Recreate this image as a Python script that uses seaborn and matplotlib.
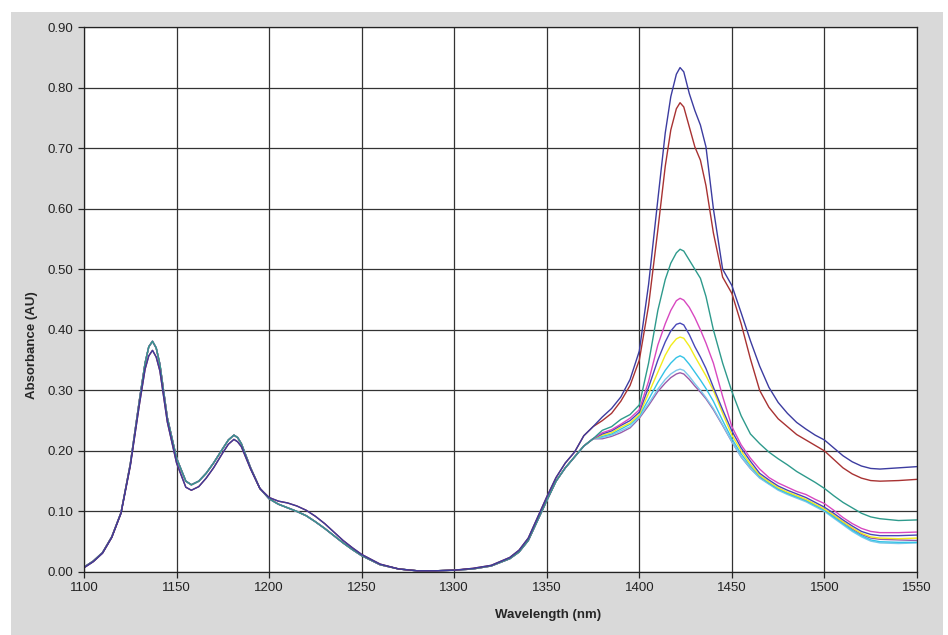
import pandas as pd
import matplotlib.pyplot as plt
import seaborn as sns
from matplotlib.patches import Rectangle

# wavelengths (nm)
wl_low = [1100, 1105, 1110, 1115, 1120, 1125, 1130, 1133, 1135, 1137, 1139, 1141, 1145, 1150,
          1155, 1158, 1162, 1166, 1170, 1175, 1178, 1181, 1183, 1185, 1190, 1195, 1200, 1205,
          1210, 1215, 1220, 1225, 1230, 1235, 1240, 1245, 1250, 1260, 1270, 1280, 1290, 1300,
          1310, 1320, 1330, 1335, 1340, 1345, 1350, 1355, 1360, 1365, 1370, 1375]
wl_high = [1380, 1385, 1390, 1395, 1400, 1405, 1410, 1414, 1417, 1420, 1422, 1424, 1427, 1430,
           1433, 1436, 1440, 1445, 1450, 1455, 1460, 1465, 1470, 1475, 1480, 1485, 1490, 1495,
           1500, 1505, 1510, 1515, 1520, 1525, 1530, 1540, 1550]

# first part of the spectra, nearly identical for all samples
low_light = [0.008, 0.018, 0.032, 0.058, 0.098, 0.178, 0.285, 0.345, 0.372, 0.381, 0.370, 0.343,
             0.255, 0.188, 0.150, 0.144, 0.150, 0.163, 0.180, 0.204, 0.218, 0.226, 0.222, 0.212,
             0.172, 0.138, 0.121, 0.112, 0.106, 0.100, 0.093, 0.083, 0.072, 0.060, 0.048, 0.037,
             0.027, 0.012, 0.005, 0.002, 0.002, 0.003, 0.005, 0.010, 0.022, 0.033, 0.052, 0.085,
             0.118, 0.150, 0.172, 0.190, 0.208, 0.220]
low_dark = [0.007, 0.017, 0.031, 0.057, 0.097, 0.175, 0.278, 0.335, 0.357, 0.366, 0.355, 0.332,
            0.248, 0.180, 0.140, 0.135, 0.141, 0.155, 0.172, 0.197, 0.211, 0.219, 0.215, 0.207,
            0.170, 0.138, 0.123, 0.117, 0.114, 0.109, 0.102, 0.092, 0.080, 0.066, 0.052, 0.040,
            0.029, 0.013, 0.005, 0.002, 0.002, 0.003, 0.006, 0.011, 0.024, 0.036, 0.056, 0.090,
            0.124, 0.156, 0.180, 0.198, 0.225, 0.240]

# water band region, per sample
navy = [0.256, 0.270, 0.289, 0.318, 0.365, 0.475, 0.615, 0.725, 0.785, 0.822, 0.833, 0.826,
        0.790, 0.762, 0.738, 0.702, 0.600, 0.500, 0.473, 0.428, 0.382, 0.340, 0.305, 0.280,
        0.262, 0.247, 0.236, 0.226, 0.218, 0.205, 0.192, 0.182, 0.175, 0.171, 0.170, 0.172,
        0.174]
maroon = [0.250, 0.262, 0.282, 0.308, 0.350, 0.440, 0.565, 0.670, 0.730, 0.765, 0.775, 0.768,
          0.735, 0.702, 0.680, 0.638, 0.560, 0.487, 0.460, 0.410, 0.352, 0.300, 0.272, 0.253,
          0.240, 0.227, 0.218, 0.209, 0.200, 0.186, 0.172, 0.162, 0.155, 0.151, 0.150, 0.151,
          0.153]
teal = [0.234, 0.240, 0.252, 0.260, 0.276, 0.345, 0.432, 0.483, 0.510, 0.527, 0.533, 0.530,
        0.515, 0.500, 0.485, 0.455, 0.400, 0.345, 0.298, 0.258, 0.228, 0.212, 0.198, 0.187,
        0.177, 0.166, 0.157, 0.148, 0.138, 0.126, 0.115, 0.106, 0.097, 0.091, 0.088, 0.085,
        0.086]
magenta = [0.230, 0.235, 0.244, 0.254, 0.268, 0.315, 0.375, 0.410, 0.432, 0.448, 0.452, 0.449,
           0.437, 0.420, 0.400, 0.378, 0.345, 0.290, 0.240, 0.210, 0.188, 0.170, 0.156, 0.147,
           0.140, 0.133, 0.128, 0.120, 0.113, 0.102, 0.090, 0.080, 0.072, 0.067, 0.065, 0.065,
           0.066]
blue = [0.228, 0.233, 0.242, 0.250, 0.264, 0.305, 0.350, 0.380, 0.398, 0.409, 0.411, 0.408,
        0.392, 0.372, 0.355, 0.336, 0.305, 0.268, 0.233, 0.205, 0.183, 0.163, 0.152, 0.142,
        0.135, 0.129, 0.123, 0.115, 0.107, 0.097, 0.086, 0.076, 0.067, 0.062, 0.060, 0.060,
        0.061]
yellow = [0.226, 0.230, 0.239, 0.246, 0.260, 0.295, 0.330, 0.358, 0.374, 0.385, 0.388, 0.386,
          0.373, 0.356, 0.340, 0.324, 0.300, 0.262, 0.226, 0.200, 0.178, 0.160, 0.149, 0.139,
          0.132, 0.126, 0.120, 0.112, 0.104, 0.094, 0.083, 0.073, 0.064, 0.058, 0.056, 0.055,
          0.056]
cyan = [0.224, 0.228, 0.236, 0.244, 0.258, 0.285, 0.313, 0.333, 0.345, 0.354, 0.357, 0.354,
        0.343, 0.330, 0.317, 0.303, 0.282, 0.250, 0.220, 0.195, 0.175, 0.158, 0.147, 0.137,
        0.130, 0.124, 0.118, 0.110, 0.102, 0.091, 0.080, 0.069, 0.060, 0.053, 0.050, 0.049,
        0.049]
skyblue = [0.222, 0.226, 0.233, 0.240, 0.256, 0.278, 0.302, 0.318, 0.327, 0.333, 0.335, 0.333,
           0.323, 0.311, 0.300, 0.288, 0.270, 0.243, 0.215, 0.190, 0.171, 0.155, 0.145, 0.135,
           0.128, 0.122, 0.116, 0.108, 0.100, 0.089, 0.078, 0.067, 0.058, 0.051, 0.048, 0.047,
           0.048]
purple = [0.220, 0.224, 0.230, 0.238, 0.254, 0.275, 0.298, 0.312, 0.321, 0.327, 0.329, 0.327,
          0.318, 0.307, 0.297, 0.286, 0.268, 0.242, 0.215, 0.190, 0.171, 0.156, 0.146, 0.137,
          0.130, 0.124, 0.118, 0.110, 0.103, 0.093, 0.082, 0.071, 0.062, 0.056, 0.054, 0.053,
          0.052]

series = {
    "purple": (low_light, purple, "#9a5aa8"),
    "skyblue": (low_light, skyblue, "#7cc8ea"),
    "cyan": (low_light, cyan, "#33c3e6"),
    "yellow": (low_light, yellow, "#f2ec1c"),
    "blue": (low_light, blue, "#4848b8"),
    "magenta": (low_light, magenta, "#d848c0"),
    "teal": (low_light, teal, "#2e9a8c"),
    "maroon": (low_dark, maroon, "#a83232"),
    "navy": (low_dark, navy, "#3c3ca0"),
}

rows = []
for name, (lo, hi, _) in series.items():
    for w, a in zip(wl_low + wl_high, lo + hi):
        rows.append({"sample": name, "Wavelength": w, "Absorbance": a})
df = pd.DataFrame(rows)
palette = {k: v[2] for k, v in series.items()}

sns.set_style("white")
plt.rcParams["font.family"] = ["Liberation Sans", "DejaVu Sans"]

fig = plt.figure(figsize=(9.48, 6.35), dpi=100, facecolor="white")
fig.patches.append(Rectangle((11 / 948, 0), 932 / 948, 623 / 635, transform=fig.transFigure,
                             facecolor="#d9d9d9", edgecolor="none", zorder=-10))
ax = fig.add_axes([84 / 948, 1 - 572 / 635, 833 / 948, 545 / 635])
ax.set_facecolor("white")

sns.lineplot(data=df, x="Wavelength", y="Absorbance", hue="sample", palette=palette,
             hue_order=list(series.keys()), estimator=None, sort=False, legend=False,
             linewidth=1.0, ax=ax)
for line in ax.get_lines():
    line.set_solid_joinstyle("round")

ax.set_xlim(1100, 1550)
ax.set_ylim(0, 0.9)
ax.set_xticks(range(1100, 1551, 50))
ax.set_yticks([i / 10 for i in range(10)])
ax.set_yticklabels([f"{i / 10:.2f}" for i in range(10)])
ax.grid(True, color="#333333", linewidth=0.9)
ax.set_axisbelow(True)
for s in ax.spines.values():
    s.set_color("#222222")
    s.set_linewidth(0.9)
ax.tick_params(axis="both", direction="out", length=4, width=0.9, color="#222222",
               labelsize=9.5, labelcolor="#222222", left=True, bottom=True)
ax.set_xlabel("Wavelength (nm)", fontsize=9.5, fontweight="bold")
ax.set_ylabel("Absorbance (AU)", fontsize=9.5, fontweight="bold")
# label positions as in the original (shifted off-centre)
ax.xaxis.set_label_coords(0.557, -0.068)
ax.yaxis.set_label_coords(-0.055, 0.4165)

fig.savefig("out.png", dpi=100, facecolor=fig.get_facecolor())
